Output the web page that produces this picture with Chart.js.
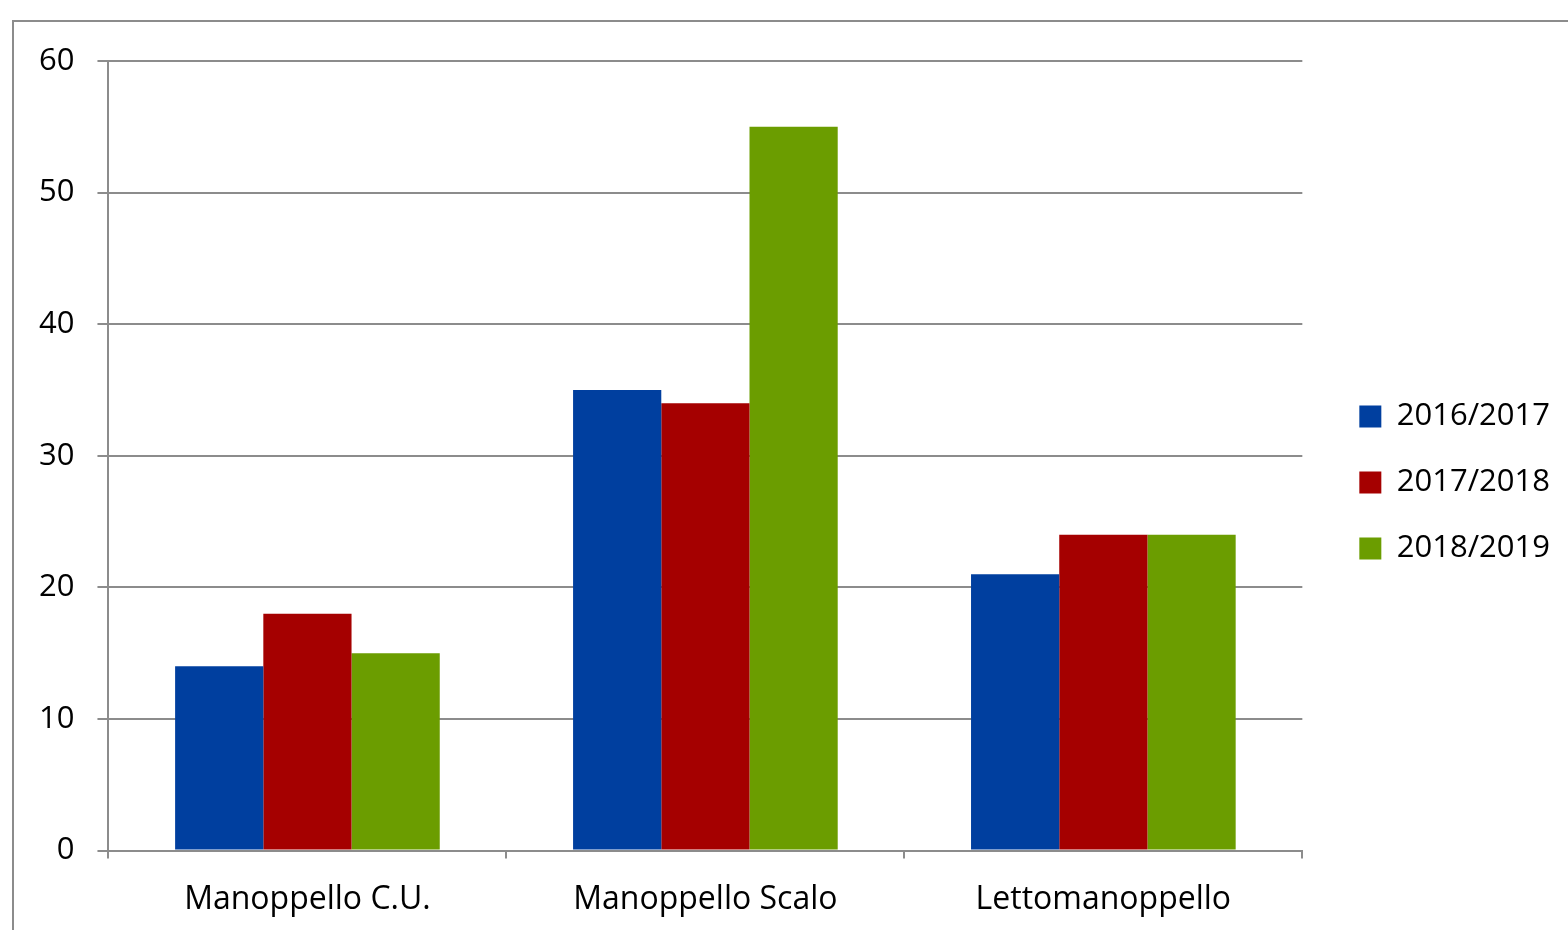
<!DOCTYPE html>
<html lang="it">
<head>
    <meta charset="UTF-8">
    <title>Iscritti per plesso</title>
    <script src="https://cdn.jsdelivr.net/npm/chart.js"></script>
    <style>
        body {
            margin: 0;
            background: #fff;
            overflow: hidden;
            font-family: "Open Sans", sans-serif;
        }
        .frame {
            position: absolute;
            left: 12px;
            top: 20px;
            width: 1700px;
            height: 1000px;
            border-left: 2px solid #8c8c8c;
            border-top: 2px solid #8c8c8c;
        }
        .chart-box {
            position: absolute;
            left: 0;
            top: 0;
            width: 1554px;
            height: 919px;
        }
    </style>
</head>
<body>
    <div class="frame">
        <div class="chart-box">
            <canvas id="myChart"></canvas>
        </div>
    </div>

    <script>
        // data
        const plessi = ['Manoppello C.U.', 'Manoppello Scalo', 'Lettomanoppello'];
        const anni = ['2016/2017', '2017/2018', '2018/2019'];
        const iscritti1617 = [14, 35, 21];
        const iscritti1718 = [18, 34, 24];
        const iscritti1819 = [15, 55, 24];
        const colori = ['#003f9f', '#a50000', '#6b9d00'];

        const gridGray = '#8c8c8c';
        const fontMain = { family: '"Open Sans", sans-serif', size: 31 };

        // push the legend a bit away from the plot, like in the original
        const legendShift = {
            id: 'legendShift',
            afterLayout(chart) {
                chart.legend.left += 22;
                chart.legend.right += 22;
            }
        };

        const ctx = document.getElementById('myChart').getContext('2d');
        const myChart = new Chart(ctx, {
            type: 'bar',
            data: {
                labels: plessi,
                datasets: [iscritti1617, iscritti1718, iscritti1819].map((vals, i) => ({
                    label: anni[i],
                    data: vals,
                    backgroundColor: colori[i],
                    borderWidth: 0,
                    barPercentage: 1.0,
                    categoryPercentage: 0.665
                }))
            },
            options: {
                responsive: true,
                maintainAspectRatio: false,
                animation: false,
                layout: {
                    padding: { top: 39, left: 2, right: 30, bottom: 0 }
                },
                plugins: {
                    tooltip: { enabled: false },
                    legend: {
                        position: 'right',
                        fullSize: false,
                        title: { display: true, text: '', padding: { top: 39, bottom: 0 } },
                        labels: {
                            color: '#000',
                            font: fontMain,
                            boxWidth: 22,
                            boxHeight: 22,
                            padding: 35
                        }
                    }
                },
                scales: {
                    x: {
                        grid: {
                            offset: true,
                            drawOnChartArea: false,
                            drawTicks: true,
                            tickLength: 8,
                            color: gridGray,
                            lineWidth: 2
                        },
                        border: { display: true, color: gridGray, width: 2 },
                        ticks: { color: '#000', font: { family: fontMain.family, size: 32 }, padding: 22, maxRotation: 0 }
                    },
                    y: {
                        min: 0,
                        max: 60,
                        grid: {
                            color: gridGray,
                            lineWidth: 2,
                            drawTicks: true,
                            tickLength: 11
                        },
                        border: { display: true, color: gridGray, width: 2 },
                        ticks: {
                            color: '#000',
                            font: { family: fontMain.family, size: 31, lineHeight: 0.9 },
                            stepSize: 10,
                            padding: 23
                        }
                    }
                }
            },
            plugins: [legendShift]
        });
    </script>
</body>
</html>
